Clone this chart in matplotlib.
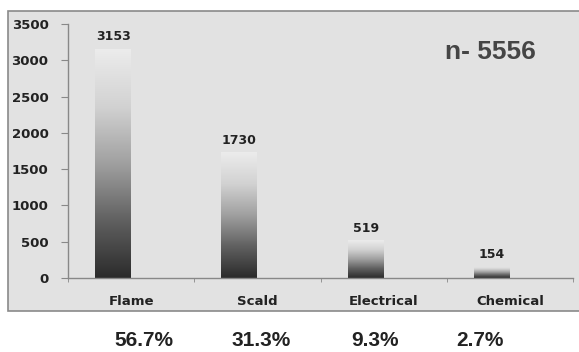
import numpy as np
import matplotlib
matplotlib.use('Agg')
import matplotlib.pyplot as plt
from matplotlib.colors import LinearSegmentedColormap
from matplotlib.patches import Rectangle

categories = ['Flame', 'Scald', 'Electrical', 'Chemical']
counts = [3153, 1730, 519, 154]
percent_labels = ['56.7%', '31.3%', '9.3%', '2.7%']
total_label = 'n- 5556'
yticks = [0, 500, 1000, 1500, 2000, 2500, 3000, 3500]

fig = plt.figure(figsize=(5.79, 3.52), dpi=100)
fig.patch.set_facecolor('white')

# grey panel behind the chart (runs off the right edge)
panel = Rectangle((8 / 579, 41 / 352), 1.0, (311 - 11) / 352,
                  transform=fig.transFigure, facecolor='#e2e2e2',
                  edgecolor='#8a8a8a', linewidth=1.2, zorder=-10)
fig.patches.append(panel)

ax = fig.add_axes([68 / 579, 74 / 352, (573 - 68) / 579, (278 - 24) / 352])
ax.set_facecolor('none')
ax.set_zorder(1)

cmap = LinearSegmentedColormap.from_list(
    'bar', ['#2b2b2b', '#606060', '#a0a0a0', '#d2d2d2', '#ececec'])
grad = np.linspace(0, 1, 256).reshape(-1, 1)

x = np.arange(len(categories))
offset = -0.143
width = 0.285
bars = ax.bar(x + offset, counts, width=width, color='none', edgecolor='none')
for b, v in zip(bars, counts):
    x0 = b.get_x()
    im = ax.imshow(grad, cmap=cmap, origin='lower', aspect='auto',
                   extent=[x0, x0 + width, 0, v], zorder=2)
    im.set_clip_path(b)
    ax.text(x0 + width / 2, v + 80, str(v), ha='center', va='bottom',
            fontsize=9, fontweight='bold', color='#222222', family='DejaVu Sans')

ax.set_xlim(-0.5, 3.5)
ax.set_ylim(0, 3500)
ax.set_yticks(yticks)
ax.set_xticks(x)
ax.set_xticklabels(categories)
ax.set_xticks(np.arange(-0.5, 4.0, 1.0), minor=True)
ax.tick_params(axis='x', which='major', length=0, pad=12, labelsize=9.5,
               labelcolor='#222222')
ax.tick_params(axis='x', which='minor', length=3, color='#888888', direction='out')
ax.tick_params(axis='y', length=5, color='#888888', pad=9, labelsize=9.5,
               labelcolor='#222222')
for lab in ax.get_xticklabels() + ax.get_yticklabels():
    lab.set_fontweight('bold')

for s in ['top', 'right']:
    ax.spines[s].set_visible(False)
for s in ['left', 'bottom']:
    ax.spines[s].set_color('#888888')
    ax.spines[s].set_linewidth(1.0)

fig.text(490 / 579, 1 - 52 / 352, total_label, ha='center', va='center',
         fontsize=19, fontweight='bold', color='#454545', family='Liberation Sans')

# percentages under the chart
pct_x = [144, 261, 375, 480]
for px, p in zip(pct_x, percent_labels):
    fig.text(px / 579, 1 - 340 / 352, p, ha='center', va='center',
             fontsize=15, fontweight='bold', color='#222222', family='Liberation Sans')

fig.savefig('out.png', dpi=100)
